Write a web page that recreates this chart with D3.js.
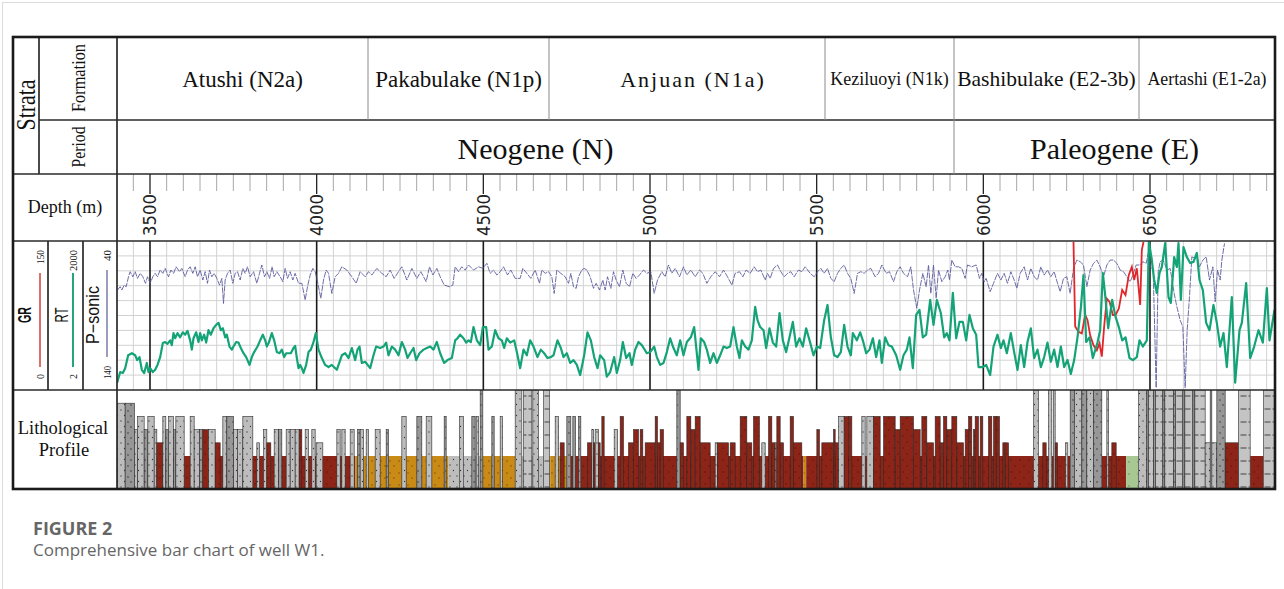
<!DOCTYPE html>
<html lang="en">
<head>
<meta charset="UTF-8">
<title>Comprehensive bar chart of well W1</title>
<script src="https://d3js.org/d3.v7.min.js"></script>
<style>
  html, body { margin: 0; padding: 0; background: #fff; }
  svg { display: block; }
  .serif { font-family: "Liberation Serif", "Times New Roman", serif; fill: #111; }
  .sans { font-family: "Liberation Sans", Arial, sans-serif; fill: #111; }
  .depth-axis text { font-family: "DejaVu Sans", sans-serif; font-size: 18px; fill: #222; }
  .cap-title { font-family: "Open Sans", sans-serif; font-weight: 700; font-size: 18px; fill: #666; }
  .cap-text { font-family: "Open Sans", sans-serif; font-size: 17px; fill: #666; }
</style>
</head>
<body>
<svg id="chart" width="1284" height="589"></svg>
<script>
// ---- strata header ----
const formationNames = ["Atushi (N2a)", "Pakabulake (N1p)", "Anjuan (N1a)", "Keziluoyi (N1k)", "Bashibulake (E2-3b)", "Aertashi (E1-2a)"];
const formationBounds = [3402.5, 4155.5, 4698.5, 5526.5, 5913.5, 6468.5, 6876.5];
const periodNames = ["Neogene (N)", "Paleogene (E)"];
const periodBounds = [3402.5, 5913.5, 6876.5];
const depthMajor = [3500, 4000, 4500, 5000, 5500, 6000, 6500];

// ---- log curves: [depth m, value] ----
const rtCurve = [[3403,2.8],[3412,4.6],[3420,4.4],[3427,5.5],[3436,10],[3447,11],[3457,10],[3463,8],[3470,9.2],[3477,5.1],[3484,4.4],[3492,7],[3497,4.6],[3502,5.5],[3510,4.6],[3517,5.1],[3524,6.4],[3532,9.2],[3540,17.7],[3547,18.5],[3554,17],[3562,20],[3567,16],[3572,28],[3577,22],[3584,28],[3592,23],[3600,29],[3607,26],[3614,31],[3622,20],[3627,13],[3632,22],[3640,29],[3647,18.5],[3652,28],[3657,20],[3664,26],[3670,18],[3677,32],[3684,26],[3692,35],[3700,41],[3707,45],[3714,32],[3720,35],[3727,23],[3732,26],[3740,15],[3747,13],[3752,15],[3760,18.5],[3767,18],[3774,14],[3782,11],[3790,9.2],[3800,6.4],[3807,9.2],[3814,11.6],[3824,15],[3832,20],[3840,26],[3847,20],[3852,15],[3858,18],[3867,28],[3874,20],[3882,11.6],[3890,11],[3897,13],[3904,9.2],[3910,11],[3917,11],[3924,11],[3932,14],[3937,15.4],[3942,8.8],[3947,5.5],[3952,6.4],[3957,5.5],[3962,4.4],[3970,6.4],[3977,11.6],[3984,13],[3992,18.5],[3999,28],[4007,13],[4017,8.8],[4027,6.4],[4037,5.8],
[4047,6.4],[4062,5.1],[4077,10],[4087,11],[4097,8.8],[4107,14],[4117,8],[4124,13],[4130,15],[4137,7],[4147,7.4],[4162,5.5],[4172,10],[4180,15],[4192,14],[4202,15],[4210,18],[4217,10],[4227,15],[4237,13],[4247,10],[4257,18.5],[4267,13],[4274,8.8],[4282,11],[4292,14],[4300,8],[4310,11],[4322,13],[4332,14],[4342,15],[4352,13],[4362,18.5],[4372,11],[4384,7],[4394,8],[4407,8.8],[4417,20],[4424,22],[4432,26],[4442,22],[4450,18],[4457,20],[4464,18.5],[4472,37],[4482,20],[4492,16],[4500,37],[4510,37],[4517,13],[4527,15],[4537,32],[4547,22],[4557,20],[4564,14],[4572,22],[4582,18],[4594,20],[4602,11.6],[4612,5.5],[4622,13],[4632,10],[4642,20],[4652,15],[4664,9.2],[4674,13],[4684,11],[4694,8.8],[4704,9.2],[4712,10],[4724,20],[4734,14],[4742,9.2],[4752,11],[4762,7],[4772,8],[4782,6.4],[4792,4],[4804,10],[4814,29],[4824,20],[4834,9.2],[4844,5.5],[4852,10],[4864,8],[4872,3.7],[4882,4.6],[4894,9.2],[4902,4.4],[4912,8],[4920,18.5],[4930,8.8],[4940,11],[4947,6.4],[4957,13],[4967,18.5],[4977,16],[4992,11],[5002,11.6],[5014,15],[5022,9.2],[5032,6.4],[5042,7],[5052,11.6],[5062,22],[5072,14],[5082,10],[5092,20],[5102,10],[5112,18.5],[5124,23],[5134,37],
[5147,5.1],[5154,22],[5164,18.5],[5172,13],[5182,7],[5192,11],[5202,7],[5212,10],[5222,15],[5232,14],[5242,15],[5252,37],[5262,15],[5270,8.8],[5277,20],[5287,15],[5297,13],[5307,20],[5317,94],[5324,51],[5332,37],[5342,32],[5350,14],[5360,35],[5370,18],[5380,15],[5390,71],[5400,20],[5410,11.6],[5420,23],[5430,47],[5440,15],[5450,22],[5460,15],[5470,35],[5482,18],[5492,10],[5502,15],[5512,14],[5524,51],[5534,103],[5544,23],[5554,10],[5564,9.2],[5574,11.6],[5584,41],[5594,15],[5604,10],[5610,28],[5622,20],[5632,29],[5640,20],[5650,11],[5660,13],[5670,22],[5680,9.2],[5690,20],[5697,7],[5707,23],[5717,16],[5727,15],[5740,10],[5752,5.1],[5762,10],[5772,13],[5780,23],[5790,5.5],[5800,65],[5810,82],[5820,23],[5830,26],[5842,130],[5852,41],[5862,130],[5874,71],[5884,23],[5892,28],[5900,20],[5910,180],[5920,22],[5930,47],[5940,47],[5950,20],[5960,65],[5970,35],[5980,26],[5987,5.8],[6000,5.8],[6010,6.4],[6022,4],
[6032,15],[6044,26],[6054,14],[6062,20],[6072,11],[6084,28],[6094,11.6],[6104,5.1],[6114,16],[6124,5.8],[6134,18.5],[6144,35],[6154,8.8],[6164,13],[6174,5.8],[6184,9.2],[6194,18],[6204,7.4],[6214,13],[6224,5.8],[6234,15],[6244,5.8],[6254,8],[6264,4.2],[6274,8],[6284,23],[6294,90],[6302,413],[6310,18.5],[6320,23],[6330,8.8],[6344,18],[6352,32],[6360,454],[6368,140],[6376,35],[6388,130],[6398,60],[6408,37],[6418,20],[6428,23],[6440,8.8],[6450,8],[6462,9.2],[6470,20],[6480,15],[6492,20],
[6498,2000],[6507,828],[6514,328],[6522,180],[6530,454],[6537,600],[6547,1820],[6557,149],[6564,113],[6574,950],[6582,600],[6587,1820],[6594,130],[6602,1510],[6612,950],[6622,720],[6632,760],[6642,1150],[6650,328],[6660,206],[6670,45],[6680,32],[6692,103],[6702,45],[6712,15],[6722,28],[6732,5.8],[6747,149],[6757,2.8],[6770,32],[6777,45],[6790,285],[6802,8.8],[6814,15],[6827,32],[6840,18],[6852,226],[6860,20],[6875,82]];

const sonicCurve = [[3404,72.9],[3412,70.7],[3417,72.9],[3424,69.6],[3430,70.7],[3437,64],[3442,60.6],[3450,64],[3457,60.6],[3464,65.1],[3472,61.7],[3480,64],[3488,68.4],[3494,64],[3502,68.4],[3510,64],[3517,61.7],[3524,64],[3532,59.5],[3540,61.7],[3547,58.4],[3557,64],[3564,59.5],[3572,61.7],[3580,57.3],[3590,60.6],[3597,58.4],[3607,64],[3614,59.5],[3622,57.3],[3630,61.7],[3637,57.3],[3644,64],[3652,59.5],[3660,66.2],[3667,60.6],[3674,68.4],[3680,59.5],[3687,64],[3694,61.7],[3702,65.1],[3710,69.6],[3717,65.1],[3722,81.9],[3727,66.2],[3734,61.7],[3742,59.5],[3750,68.4],[3757,61.7],[3764,60.6],[3772,66.2],[3780,58.4],[3787,61.7],[3794,57.3],[3802,64],[3812,60.6],[3822,68.4],[3830,61.7],[3837,56.1],[3845,64],[3852,60.6],[3860,65.1],[3868,57.3],[3874,64],[3882,60.6],[3892,64],[3900,67.3],[3907,58.4],[3914,65.1],[3922,60.6],[3930,66.2],[3937,61.7],[3947,68.4],[3957,68.4],[3967,79.6],[3974,70.7],[3982,62.8],[3990,58.4],[3997,60.6],[4004,67.3],[4014,78.5],[4022,66.2],[4030,59.5],[4037,61.7],
[4047,75.2],[4057,64],[4067,61.7],[4077,57.3],[4092,59.5],[4107,64],[4120,68.4],[4132,60.6],[4147,64],[4157,60.6],[4167,62.8],[4182,58.4],[4197,61.7],[4210,64],[4222,59.5],[4234,65.1],[4247,60.6],[4257,57.3],[4272,66.2],[4287,58.4],[4302,65.1],[4314,60.6],[4330,67.3],[4340,57.3],[4350,62.8],[4362,58.4],[4372,64],[4384,69.6],[4400,70.7],[4410,69.6],[4417,57.3],[4427,60.6],[4437,57.3],[4447,59.5],[4457,56.1],[4472,59.5],[4487,57.3],[4500,58.4],[4512,55],[4522,61.7],[4532,59.5],[4542,62.8],[4552,60.6],[4562,57.3],[4574,62.8],[4584,59.5],[4597,65.1],[4612,65.1],[4620,58.4],[4632,61.7],[4644,65.1],[4657,59.5],[4670,68.4],[4677,59.5],[4687,61.7],[4697,60.6],[4707,64],[4714,75.2],[4722,59.5],[4734,61.7],[4747,64],[4757,68.4],[4764,61.7],[4772,70.7],[4780,71.8],[4787,64],[4797,59.5],[4804,58.4],[4812,59.5],[4822,64],[4832,71.8],[4840,68.4],[4850,72.9],[4860,66.2],[4867,72.9],[4874,64],[4884,71.8],[4892,60.6],[4900,66.2],[4910,70.7],[4920,59.5],[4930,68.4],[4940,70.7],[4950,61.7],[4960,65.1],[4970,62.8],[4982,59.5],[4992,61.7],[5004,60.6],[5014,75.2],[5024,66.2],[5037,60.6],[5047,64],[5057,56.1],[5067,61.7],[5077,58.4],[5090,64],[5102,57.3],[5112,62.8],[5124,59.5],[5137,64],
[5150,59.5],[5160,61.7],[5172,68.4],[5184,64],[5197,60.6],[5210,64],[5222,59.5],[5234,64],[5247,69.6],[5257,61.7],[5270,60.6],[5280,64],[5290,59.5],[5302,61.7],[5314,57.3],[5324,60.6],[5334,59.5],[5347,66.2],[5354,61.7],[5362,65.1],[5372,58.4],[5384,56.1],[5394,60.6],[5404,64],[5414,61.7],[5424,60.6],[5434,64],[5447,59.5],[5457,60.6],[5467,57.3],[5482,61.7],[5494,64],[5504,60.6],[5514,58.4],[5524,61.7],[5534,58.4],[5544,65.1],[5554,67.3],[5564,61.7],[5574,58.4],[5584,56.1],[5594,61.7],[5604,65.1],[5614,75.2],[5624,61.7],[5634,60.6],[5644,61.7],[5654,59.5],[5664,58.4],[5677,64],[5687,61.7],[5697,56.1],[5710,61.7],[5720,60.6],[5732,67.3],[5742,60.6],[5752,57.3],[5762,61.7],[5774,64],[5784,57.3],[5792,72.9],[5802,85.2],[5810,72.9],[5820,61.7],[5830,70.7],[5837,56.1],[5844,75.2],[5852,56.1],[5860,78.5],[5867,59.5],[5877,67.3],[5887,64],[5895,59.5],[5900,66.2],[5907,52.8],[5917,57.3],[5927,57.3],[5937,58.4],[5947,65.1],[5954,56.1],[5967,57.3],[5980,56.1],[5990,65.1],[5997,61.7],
[6004,67.3],[6010,65.1],[6022,74],[6032,68.4],[6044,61.7],[6054,66.2],[6064,61.7],[6074,68.4],[6084,60.6],[6094,66.2],[6102,71.8],[6112,61.7],[6124,57.3],[6134,66.2],[6144,58.4],[6154,64],[6164,66.2],[6174,57.3],[6184,62.9],[6194,59.5],[6204,64],[6214,60.6],[6224,68.4],[6232,74],[6242,65.1],[6252,64],[6262,75.2],[6272,58.4],[6282,52.8],[6292,53.9],[6302,56.1],[6312,70.7],[6322,59.5],[6332,55],[6342,52.8],[6352,57.3],[6362,64],[6372,56.1],[6382,52.8],[6392,52.8],[6402,55],[6412,59.5],[6422,60.6],[6432,64],[6442,67.3],[6450,62.9],[6460,56.1],[6472,56.1],[6480,53.9],[6490,55],
[6496,48.3],[6502,57.3],[6511,59.5],[6520,138.5],[6526,60.6],[6532,53.9],[6541,52.8],[6553,59.5],[6562,58.4],[6574,75.2],[6582,84.1],[6592,93.1],[6600,97.6],[6607,138.5],[6613,99.8],[6620,77.4],[6627,50.6],[6634,51.4],[6642,49.4],[6650,57.3],[6660,52.8],[6670,50.6],[6680,66.2],[6690,57.3],[6697,80.8],[6704,59.5],[6712,66.2],[6717,52.8],[6725,41.6]];

const grCurve = [[6272,149],[6277,64],[6287,58.7],[6297,57],[6307,75.5],[6314,70.5],[6322,55],[6332,45],[6342,40],[6350,47],[6357,33.6],[6364,64],[6372,92],[6380,89],[6390,75.5],[6398,75.5],[6408,82],[6418,100.7],[6428,95.6],[6438,115.8],[6447,124],[6454,110.8],[6462,122.5],[6472,85.6],[6477,141],[6482,149]];

// ---- lithology: base strip runs [top, bottom, rock] and grain-size columns [top, bottom, grade, rock] ----
const lithBase = [[3402,3462,"sand"],[3462,4117,"mud"],[4117,4397,"silt"],[4397,4497,"sand"],[4497,4597,"silt"],[4597,4702,"sand"],[4702,4752,"silt"],[4752,5132,"mud"],[5132,5142,"silt"],[5142,5462,"mud"],[5462,5470,"silt"],[5470,6262,"mud"],[6262,6357,"sand"],[6357,6430,"mud"],[6430,6467,"green"],[6467,6727,"sand"],[6727,6767,"mud"],[6767,6802,"sand"],[6802,6842,"mud"],[6842,6877,"sand"]];

const lithBars = [[3403,3427,4,"sand"],[3427,3455,4,"grit"],[3455,3464,2,"sand"],[3464,3484,3,"sand"],[3484,3495,2,"grit"],[3495,3514,3,"sand"],[3514,3522,2,"sand"],[3522,3540,1,"mud"],[3540,3549,3,"sand"],[3549,3557,2,"grit"],[3557,3572,3,"sand"],[3572,3579,2,"grit"],[3579,3604,3,"sand"],[3622,3634,3,"sand"],[3634,3650,2,"sand"],[3650,3660,2,"grit"],[3660,3677,2,"mud"],[3677,3697,2,"sand"],[3697,3712,1,"mud"],[3720,3732,3,"sand"],[3732,3752,3,"grit"],[3752,3764,2,"sand"],[3764,3780,2,"sand"],[3780,3810,3,"sand"],[3822,3830,1,"sand"],[3842,3852,2,"sand"],[3852,3864,1,"mud"],[3874,3887,2,"sand"],[3887,3897,2,"grit"],[3910,3922,2,"sand"],[3922,3937,2,"sand"],[3937,3949,2,"sand"],[3949,3957,2,"mud"],[3967,3977,2,"sand"],[3987,3997,2,"sand"],[4000,4020,1,"sand"],
[4062,4072,2,"sand"],[4077,4087,2,"sand"],[4102,4114,2,"sand"],[4124,4132,2,"grit"],[4132,4142,2,"sand"],[4150,4157,2,"sand"],[4177,4192,2,"sand"],[4210,4217,2,"grit"],[4257,4270,3,"sand"],[4302,4317,3,"grit"],[4330,4347,3,"sand"],[4384,4390,3,"grit"],[4430,4442,3,"sand"],[4467,4477,3,"grit"],[4480,4487,3,"sand"],[4492,4500,5,"grit"],[4527,4534,3,"grit"],[4552,4559,3,"sand"],[4597,4617,5,"sand"],[4622,4647,5,"cgl"],[4650,4667,5,"sand"],[4682,4700,5,"cgl"],[4717,4727,3,"sand"],[4732,4744,1,"mud"],[4752,4764,3,"grit"],[4770,4778,3,"grit"],[4787,4794,3,"grit"],[4814,4827,1,"mud"],[4827,4832,2,"sand"],[4832,4837,1,"mud"],[4837,4847,2,"sand"],[4847,4852,1,"mud"],[4857,4864,3,"mud"],[4894,4904,2,"sand"],[4912,4922,3,"mud"],[4937,4952,1,"mud"],[4952,4967,2,"mud"],[4972,4980,2,"mud"],[4987,5017,1,"mud"],[5017,5024,3,"mud"],[5024,5032,1,"mud"],[5032,5042,2,"mud"],[5082,5092,5,"grit"],[5092,5102,1,"mud"],[5112,5124,3,"mud"],[5124,5137,2,"mud"],[5137,5152,3,"mud"],
[5152,5182,1,"mud"],[5197,5204,1,"sand"],[5204,5237,1,"mud"],[5242,5257,1,"mud"],[5272,5292,3,"mud"],[5292,5307,1,"mud"],[5312,5330,3,"mud"],[5337,5347,1,"sand"],[5357,5367,3,"mud"],[5367,5377,1,"mud"],[5377,5382,1,"sand"],[5382,5392,3,"mud"],[5392,5402,1,"mud"],[5422,5432,3,"mud"],[5432,5457,1,"mud"],[5502,5510,2,"mud"],[5517,5552,1,"mud"],[5552,5557,2,"mud"],[5557,5567,1,"mud"],[5567,5584,3,"sand"],[5584,5597,3,"mud"],[5597,5607,3,"mud"],[5637,5647,3,"sand"],[5652,5672,3,"sand"],[5672,5692,3,"mud"],[5702,5737,3,"mud"],[5737,5752,2,"mud"],[5752,5792,3,"mud"],[5792,5812,2,"mud"],[5817,5832,3,"mud"],[5832,5852,1,"mud"],[5857,5872,3,"mud"],[5872,5882,1,"mud"],[5882,5892,3,"mud"],[5892,5907,2,"mud"],[5907,5922,3,"mud"],[5922,5942,1,"mud"],
[5947,5957,2,"mud"],[5957,5967,3,"mud"],[5972,5977,2,"mud"],[5977,5987,3,"mud"],[5992,6000,3,"mud"],[6017,6027,3,"mud"],[6032,6040,3,"mud"],[6040,6050,3,"mud"],[6060,6067,1,"mud"],[6067,6077,1,"mud"],[6152,6167,5,"sand"],[6180,6190,1,"mud"],[6197,6207,5,"sand"],[6212,6217,5,"sand"],[6217,6224,1,"mud"],[6248,6255,1,"sand"],[6262,6275,5,"grit"],[6275,6297,5,"sand"],[6297,6312,5,"grit"],[6312,6332,5,"sand"],[6332,6357,5,"grit"],[6372,6377,5,"sand"],[6387,6400,1,"mud"],[6467,6492,5,"sand"],[6492,6497,5,"grit"],[6497,6512,5,"cgl"],[6512,6518,5,"grit"],[6518,6540,5,"cgl"],[6540,6546,5,"grit"],[6546,6572,5,"cgl"],[6572,6578,5,"grit"],[6578,6600,5,"cgl"],[6600,6606,5,"grit"],[6606,6630,5,"cgl"],[6630,6636,5,"grit"],[6636,6667,5,"cgl"],[6667,6702,1,"sand"],[6682,6687,5,"grit"],[6702,6727,5,"grit"],[6727,6767,1,"mud"],[6767,6802,5,"cgl"],[6842,6877,5,"cgl"]];

// ---- layout ----
const L = 13, R = 1275, T = 37, B = 489;
const xStrata = 39, xPlot = 117;
const yForm = 120, yPeriod = 174, yDepth = 241, yTrack = 390;

const svg = d3.select("#chart");
const defs = svg.append("defs");

// page frame
svg.append("rect").attr("x", 2.5).attr("y", 2.5).attr("width", 1300).attr("height", 600)
  .attr("fill", "none").attr("stroke", "#dcdcdc").attr("stroke-width", 1);

// scales
const depth = d3.scaleLinear().domain([3402.5, 6876.5]).range([xPlot, R]);
const rtY = d3.scaleLog().domain([2, 2000]).range([yTrack, yDepth]);
const sonicY = d3.scaleLinear().domain([140, 40]).range([yTrack, yDepth]);
const grY = d3.scaleLinear().domain([0, 150]).range([yTrack, yDepth]);
const gradeY = d3.scaleLinear().domain([0, 5]).range([456, 390]);

// patterns for rock types
function pat(id, w, h, bg, draw) {
  const p = defs.append("pattern").attr("id", id).attr("width", w).attr("height", h)
    .attr("patternUnits", "userSpaceOnUse");
  p.append("rect").attr("width", w).attr("height", h).attr("fill", bg);
  if (draw) draw(p);
}
const dots = (c, pts) => p => pts.forEach(([x, y]) => p.append("circle").attr("cx", x).attr("cy", y).attr("r", 0.65).attr("fill", c));
pat("p-sand", 7, 11, "#bdbdbd", dots("#3a3a3a", [[2, 3], [5.5, 8.5]]));
pat("p-grit", 7, 11, "#979797", dots("#222", [[2, 4], [5, 9]]));
pat("p-mud", 9, 12, "#8c2418", dots("#5a0f08", [[3, 4], [7, 10]]));
pat("p-silt", 9, 12, "#c98a16", dots("#6e4a06", [[3, 5], [7, 10]]));
pat("p-green", 9, 12, "#a7c793", dots("#5d7a4c", [[4, 6]]));
pat("p-cgl", 8, 13, "#c4c4c4", p => {
  p.append("line").attr("x1", 0.5).attr("x2", 6.5).attr("y1", 6).attr("y2", 6).attr("stroke", "#333").attr("stroke-width", 0.9);
});

// clip paths
defs.append("clipPath").attr("id", "clipTrack").append("rect")
  .attr("x", xPlot).attr("y", yDepth).attr("width", R - xPlot).attr("height", yTrack - yDepth);
defs.append("clipPath").attr("id", "clipLith").append("rect")
  .attr("x", xPlot).attr("y", yTrack).attr("width", R - xPlot).attr("height", B - yTrack);

// ---- lithology ----
const lith = svg.append("g").attr("clip-path", "url(#clipLith)");
lith.selectAll("rect.base").data(lithBase).join("rect").attr("class", "base")
  .attr("x", d => depth(d[0])).attr("width", d => depth(d[1]) - depth(d[0]))
  .attr("y", gradeY(0)).attr("height", B - gradeY(0))
  .attr("fill", d => `url(#p-${d[2]})`);
lith.selectAll("rect.bar").data(lithBars).join("rect").attr("class", "bar")
  .attr("x", d => depth(d[0])).attr("width", d => depth(d[1]) - depth(d[0]))
  .attr("y", d => gradeY(d[2])).attr("height", d => B - gradeY(d[2]))
  .attr("fill", d => `url(#p-${d[3]})`)
  .attr("stroke", "#2a2a2a").attr("stroke-width", 0.6);

// ---- curve track grid ----
const minorTicks = d3.range(3450, 6877, 50).filter(v => v % 500 !== 0);
const grid = svg.append("g").attr("transform", `translate(0,${yDepth})`)
  .call(d3.axisBottom(depth).tickValues(minorTicks).tickSize(yTrack - yDepth).tickFormat(""));
grid.select(".domain").remove();
grid.selectAll(".tick line").attr("stroke", "#d2d2d2").attr("stroke-width", 1);

const hGrid = d3.scaleLinear().domain([0, 10]).range([yTrack, yDepth]);
svg.append("g").selectAll("line").data(d3.range(1, 10)).join("line")
  .attr("x1", xPlot).attr("x2", R).attr("y1", d => hGrid(d)).attr("y2", d => hGrid(d))
  .attr("stroke", "#d2d2d2").attr("stroke-width", 1);

const majGrid = svg.append("g").attr("transform", `translate(0,${yDepth})`)
  .call(d3.axisBottom(depth).tickValues(depthMajor).tickSize(yTrack - yDepth).tickFormat(""));
majGrid.select(".domain").remove();
majGrid.selectAll(".tick line").attr("stroke", "#1a1a1a").attr("stroke-width", 1.6);

// ---- curves ----
const curves = svg.append("g").attr("clip-path", "url(#clipTrack)");
curves.append("path").datum(sonicCurve)
  .attr("d", d3.line().x(d => depth(d[0])).y(d => sonicY(d[1])))
  .attr("fill", "none").attr("stroke", "#55559a").attr("stroke-width", 1)
  .attr("stroke-dasharray", "6 1").attr("stroke-opacity", 0.85);
curves.append("path").datum(grCurve)
  .attr("d", d3.line().x(d => depth(d[0])).y(d => grY(d[1])))
  .attr("fill", "none").attr("stroke", "#e2262b").attr("stroke-width", 1.8);
curves.append("path").datum(rtCurve)
  .attr("d", d3.line().x(d => depth(d[0])).y(d => rtY(d[1])))
  .attr("fill", "none").attr("stroke", "#14a377").attr("stroke-width", 2.2)
  .attr("stroke-linejoin", "round");

// ---- depth header axis ----
const minorAx = svg.append("g").attr("transform", `translate(0,${yPeriod})`)
  .call(d3.axisBottom(depth).tickValues(minorTicks).tickSize(17).tickFormat(""));
minorAx.select(".domain").remove();
minorAx.selectAll(".tick line").attr("stroke", "#a8a8a8").attr("stroke-width", 1);

const majorAx = svg.append("g").attr("class", "depth-axis").attr("transform", `translate(0,${yPeriod})`)
  .call(d3.axisBottom(depth).tickValues(depthMajor).tickSize(20).tickFormat(d3.format("d")));
majorAx.select(".domain").remove();
majorAx.selectAll(".tick line").attr("stroke", "#222").attr("stroke-width", 1.3);
majorAx.selectAll(".tick text")
  .attr("transform", "rotate(-90)").attr("x", -20).attr("y", 0).attr("dy", "0.36em")
  .attr("text-anchor", "end").attr("textLength", 42).attr("lengthAdjust", "spacingAndGlyphs");

// ---- header texts ----
function vText(x, y, str, cls, size, len, anchor, weight) {
  const t = svg.append("text").attr("class", cls)
    .attr("transform", `translate(${x},${y}) rotate(-90)`)
    .attr("text-anchor", anchor || "middle").attr("dy", "0.35em")
    .attr("font-size", size).attr("font-weight", weight || "normal").text(str);
  if (len) t.attr("textLength", len).attr("lengthAdjust", "spacingAndGlyphs");
  return t;
}
vText(26, 105, "Strata", "serif", 27, 51);
vText(78, 78, "Formation", "serif", 19, 68);
vText(78, 147, "Period", "serif", 19, 41);

const formSize = [23, 23, 22, 18, 21.5, 17.8];
const formSpacing = [0, 0, 2, 0, 0, 0];
svg.append("g").selectAll("text").data(formationNames).join("text").attr("class", "serif")
  .attr("x", (d, i) => (depth(formationBounds[i]) + depth(formationBounds[i + 1])) / 2 + (i === 2 ? 6 : 0))
  .attr("y", 79).attr("dominant-baseline", "central").attr("text-anchor", "middle")
  .attr("font-size", (d, i) => formSize[i]).attr("letter-spacing", (d, i) => formSpacing[i])
  .text(d => d);

svg.append("g").selectAll("text").data(periodNames).join("text").attr("class", "serif")
  .attr("x", (d, i) => (depth(periodBounds[i]) + depth(periodBounds[i + 1])) / 2)
  .attr("y", 148).attr("dominant-baseline", "central").attr("text-anchor", "middle")
  .attr("font-size", 30).text(d => d);

svg.append("text").attr("class", "serif").attr("x", 65).attr("y", 207)
  .attr("dominant-baseline", "central").attr("text-anchor", "middle").attr("font-size", 18)
  .text("Depth (m)");

svg.append("text").attr("class", "serif").attr("x", 63).attr("y", 434)
  .attr("text-anchor", "middle").attr("font-size", 18.5).text("Lithological");
svg.append("text").attr("class", "serif").attr("x", 64).attr("y", 456)
  .attr("text-anchor", "middle").attr("font-size", 18.5).text("Profile");

// ---- curve legend columns ----
const legend = [
  { name: "GR", x: 25, keyX: 40, color: "#d9706b", lo: "0", hi: "150", nameLen: 16, hiLen: 14, loLen: 5, y0: 273, y1: 367, w: "bold" },
  { name: "RT", x: 62, keyX: 73, color: "#26a57c", lo: "2", hi: "2000", nameLen: 15, hiLen: 21, loLen: 5, y0: 273, y1: 367, w: "normal" },
  { name: "P\u2212sonic", x: 93, keyX: 107, color: "#9c9cc0", lo: "140", hi: "40", nameLen: 58, hiLen: 11, loLen: 13, y0: 270, y1: 357, w: "normal" }
];
legend.forEach(d => {
  vText(d.x, 315, d.name, "sans", 18, d.nameLen, "middle", d.w);
  svg.append("line").attr("x1", d.keyX).attr("x2", d.keyX).attr("y1", d.y0).attr("y2", d.y1)
    .attr("stroke", d.color).attr("stroke-width", 2);
  vText(d.keyX, 250, d.hi, "serif", 11, d.hiLen, "end");
  vText(d.keyX, 379, d.lo, "serif", 11, d.loLen, "start");
});

// ---- frame lines ----
const lines = svg.append("g").attr("stroke", "#2a2a2a").attr("fill", "none");
[[xStrata, yForm, R, yForm], [L, yPeriod, R, yPeriod], [L, yDepth, R, yDepth], [L, yTrack, R, yTrack],
 [xStrata, T, xStrata, yPeriod], [xPlot, T, xPlot, B], [48, yDepth, 48, yTrack], [83, yDepth, 83, yTrack]]
  .forEach(([x1, y1, x2, y2]) => lines.append("line").attr("x1", x1).attr("y1", y1).attr("x2", x2).attr("y2", y2)
    .attr("stroke-width", 1.7));

svg.append("g").selectAll("line").data(formationBounds.slice(1, -1)).join("line")
  .attr("x1", d => depth(d)).attr("x2", d => depth(d)).attr("y1", T).attr("y2", yForm)
  .attr("stroke", "#8a8a8a").attr("stroke-width", 1);
svg.append("g").selectAll("line").data(periodBounds.slice(1, -1)).join("line")
  .attr("x1", d => depth(d)).attr("x2", d => depth(d)).attr("y1", yForm).attr("y2", yPeriod)
  .attr("stroke", "#8a8a8a").attr("stroke-width", 1);

svg.append("rect").attr("x", L).attr("y", T).attr("width", R - L).attr("height", B - T)
  .attr("fill", "none").attr("stroke", "#1a1a1a").attr("stroke-width", 2.6);

// ---- caption ----
svg.append("text").attr("class", "cap-title").attr("x", 33).attr("y", 535).text("FIGURE 2");
svg.append("text").attr("class", "cap-text").attr("x", 33).attr("y", 556).text("Comprehensive bar chart of well W1.");
</script>
</body>
</html>
